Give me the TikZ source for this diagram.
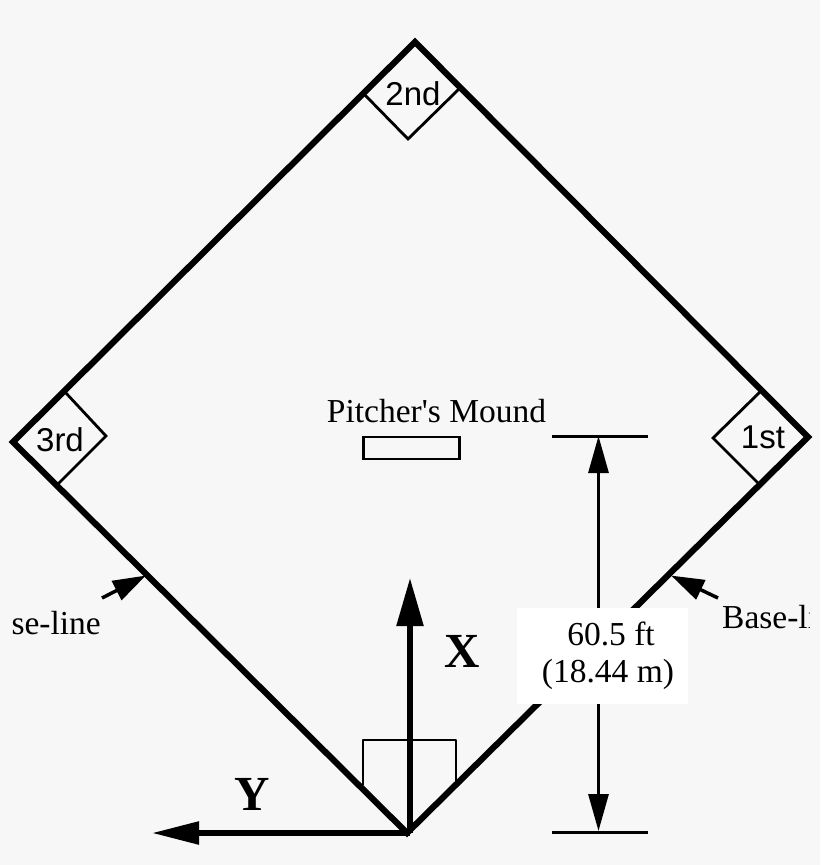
\documentclass[tikz,border=0pt]{standalone}
\usepackage{fontspec}
\setmainfont{Liberation Serif}
\newfontfamily\basefont{Liberation Sans}
\usetikzlibrary{arrows.meta}
\definecolor{bgc}{HTML}{F7F7F7}
\newcommand{\serifbig}{\fontsize{33.5}{38}\selectfont}
\tikzset{
  x=1pt,y=-1pt,
  foul/.style={line width=6.2pt,line cap=round,line join=miter},
  thin line/.style={line width=2.8pt},
  basebox/.style={line width=2.8pt,line join=miter},
  dimline/.style={line width=3pt},
  dimarrow/.style={line width=3pt,-{Triangle[length=37pt,width=20pt]}},
  pointer/.style={line width=3.5pt,-{Triangle[length=33pt,width=21pt]},shorten >=-1pt},
  axisx/.style={line width=5.5pt,-{Triangle[length=48pt,width=26pt]}},
  axisy/.style={line width=5.5pt,-{Triangle[length=47pt,width=22pt]}},
  serif label/.style={inner sep=0pt,font=\serifbig},
  base label/.style={inner sep=0pt,font=\basefont\fontsize{33}{38}\selectfont},
  axis label/.style={inner sep=0pt,font=\fontsize{49}{52}\selectfont\bfseries},
}
\begin{document}
\begin{tikzpicture}
\useasboundingbox (0,0) rectangle (820,865);
\fill[bgc] (0,0) rectangle (820,865);

% corners of the diamond
\coordinate (home) at (407,833);
\coordinate (first) at (808,437);
\coordinate (second) at (415,42);
\coordinate (third) at (13,442);

% diamond
\draw[foul] (home) -- (first) -- (second) -- (third) -- cycle;

% bases
\coordinate (b2a) at (363,93);
\coordinate (b2b) at (408,139);
\coordinate (b2c) at (460,88);
\draw[basebox] (b2a) -- (b2b) -- (b2c);
\coordinate (b1a) at (762,390);
\coordinate (b1b) at (713,438);
\coordinate (b1c) at (759,484);
\draw[basebox] (b1a) -- (b1b) -- (b1c);
\coordinate (b3a) at (65,392);
\coordinate (b3b) at (106,436);
\coordinate (b3c) at (57,485);
\draw[basebox] (b3a) -- (b3b) -- (b3c);
\node[base label] (lab2) at (413,94) {2nd};
\node[base label] (lab1) at (763,437) {1st};
\node[base label] (lab3) at (60,440) {3rd};

% pitcher's mound
\node[draw,line width=2.8pt,minimum width=96pt,minimum height=22pt,inner sep=0pt,anchor=north west] (mound) at (362,435.5) {};
\node[serif label,anchor=base] (moundlab) at (436.5,422) {Pitcher\textquotesingle s Mound};

% home box
\coordinate (f1) at (363,785);
\coordinate (f2) at (363,740);
\coordinate (f3) at (456,740);
\coordinate (f4) at (456,784);
\draw[thin line,line join=round] (f1) -- (f2) -- (f3) -- (f4);

% axes
\coordinate (xtip) at (410,578);
\coordinate (ytip) at (152,833);
\coordinate (origin) at (410,833);
\draw[axisx] (origin) -- (xtip);
\draw[axisy] (origin) -- (ytip);
\node[axis label,anchor=base] (xlab) at (462,667) {X};
\node[axis label,anchor=base] (ylab) at (252,810) {Y};

% dimension
\coordinate (d1a) at (552,436);
\coordinate (d1b) at (648,436);
\coordinate (d2a) at (552,832);
\coordinate (d2b) at (648,832);
\coordinate (dtop) at (598.5,436);
\coordinate (dbot) at (598.5,831);
\draw[dimline] (d1a) -- (d1b);
\draw[dimline] (d2a) -- (d2b);
\node[fill=white,inner sep=0pt,minimum width=171pt,minimum height=96pt,anchor=north west] (dimbox) at (517,608) {};
\draw[dimarrow] (dimbox.north -| dtop) -- (dtop);
\draw[dimarrow] (dimbox.south -| dtop) -- (dbot);
\node[serif label,anchor=base] (dim1) at (611,645) {60.5 ft};
\node[serif label,anchor=base] (dim2) at (608,682) {(18.44 m)};

% base-line pointers
\coordinate (p1t) at (102,598);
\coordinate (p1h) at (145,576);
\coordinate (p2t) at (718,598);
\coordinate (p2h) at (672,576);
\draw[pointer] (p1t) -- (p1h);
\draw[pointer] (p2t) -- (p2h);
\begin{scope}
\clip (12,560) rectangle (809,660);
\node[serif label,anchor=base east] (bl1) at (101,634) {Base-line};
\node[serif label,anchor=base west] (bl2) at (722,628.5) {Base-line};
\end{scope}
\end{tikzpicture}
\end{document}
